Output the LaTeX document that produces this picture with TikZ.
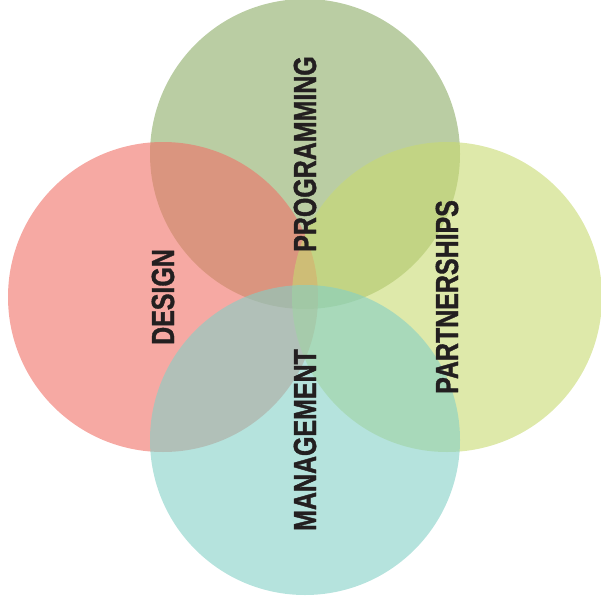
\documentclass[tikz,border=0pt]{standalone}
\usepackage{fontspec}
\usepackage{xcolor}
\usetikzlibrary{positioning}
\newfontfamily\areafont[FakeStretch=0.78,FakeBold=1.2]{Liberation Sans}
\definecolor{progcolor}{RGB}{140,172,102}
\definecolor{designcolor}{RGB}{240,112,102}
\definecolor{partcolor}{RGB}{200,218,113}
\definecolor{mgmtcolor}{RGB}{132,208,198}
\definecolor{labelgray}{RGB}{35,31,32}

\begin{document}
\begin{tikzpicture}[
    x=1pt, y=-1pt,
    area/.style={circle, minimum size=310pt, inner sep=0, draw=none, fill opacity=0.6},
    arealabel/.style={rotate=90, inner sep=0, text=labelgray, font=\areafont\bfseries\fontsize{32}{32}\selectfont}]
\useasboundingbox (0,0) rectangle (600,610);

\node[area, fill=progcolor]   (prog)   at (305,154) {};
\node[area, fill=designcolor] (design) at (163,297) {};
\node[area, fill=partcolor]   (part)   at (447,297) {};
\node[area, fill=mgmtcolor]   (mgmt)   at (305,440) {};

\node[arealabel] (progtext)   at (prog)   {PROGRAMMING};
\node[arealabel] (designtext) at (design) {DESIGN};
\node[arealabel] (parttext)   at (part)   {PARTNERSHIPS};
\node[arealabel] (mgmttext)   at (mgmt)   {MANAGEMENT};

\end{tikzpicture}
\end{document}
